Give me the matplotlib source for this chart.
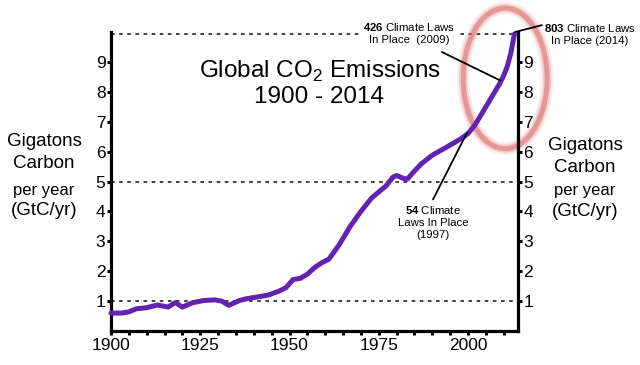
import matplotlib
matplotlib.use("Agg")
import matplotlib.pyplot as plt
from matplotlib.patches import Ellipse
from matplotlib.ticker import MultipleLocator

plt.rcParams['font.family'] = ['Liberation Sans', 'DejaVu Sans']
plt.rcParams['mathtext.fontset'] = 'custom'
plt.rcParams['mathtext.rm'] = 'Liberation Sans'
plt.rcParams['mathtext.bf'] = 'Liberation Sans:bold'

# emissions (GtC/yr)
years = [1900, 1903, 1905, 1907, 1910, 1913, 1916, 1918, 1920, 1923, 1926, 1929,
         1931, 1933, 1936, 1938, 1941, 1944, 1947, 1949, 1951, 1953, 1955, 1957,
         1959, 1961, 1964, 1967, 1970, 1973, 1975, 1977, 1979, 1980, 1982, 1983,
         1985, 1987, 1990, 1994, 1998, 2000, 2002, 2004, 2006, 2008, 2009, 2010,
         2011, 2012, 2013]
gtc = [0.60, 0.60, 0.64, 0.74, 0.78, 0.87, 0.80, 0.95, 0.80, 0.95, 1.02, 1.04,
       1.00, 0.86, 1.02, 1.08, 1.14, 1.20, 1.33, 1.45, 1.72, 1.76, 1.90, 2.12,
       2.28, 2.40, 2.90, 3.50, 4.00, 4.45, 4.65, 4.85, 5.15, 5.20, 5.10, 5.08,
       5.35, 5.60, 5.88, 6.15, 6.43, 6.60, 6.90, 7.30, 7.70, 8.10, 8.30, 8.55,
       8.85, 9.30, 9.93]

ref_lines = [1, 5]
yticks = [1, 2, 3, 4, 5, 6, 7, 8, 9]
xticks = [1900, 1925, 1950, 1975, 2000]

W, H = 640, 365
fig = plt.figure(figsize=(W / 100, H / 100), dpi=100)
ax = fig.add_axes([111 / W, 1 - 331 / H, (518 - 111) / W, (331 - 32) / H])

for y in ref_lines:
    ax.axhline(y, color='#333333', lw=1.3, dashes=(2, 2.5), zorder=1)
ax.plot([1900, 2012.8], [9.93, 9.93], color='#333333', lw=1.3, dashes=(2, 2.5),
        zorder=1, clip_on=False)

ax.plot(years, gtc, color='#6322b0', lw=3.6, solid_joinstyle='round',
        solid_capstyle='round', zorder=3, clip_on=False)

ax.set_xlim(1900, 2014)
ax.set_ylim(0, 10)
ax.set_xticks(xticks)
ax.xaxis.set_minor_locator(MultipleLocator(5))
ax.set_xticks([y for y in range(1905, 2011, 5) if y not in xticks], minor=True)
ax.set_yticks(yticks)

for s in ['left', 'right', 'bottom']:
    ax.spines[s].set_linewidth(2.3)
ax.spines['top'].set_visible(False)

tick_font = ['Liberation Sans Narrow', 'Liberation Sans']
ax.tick_params(axis='both', which='both', direction='out', length=3, width=2.2)
ax.tick_params(axis='y', left=True, right=True, labelleft=True, labelright=True, pad=1)
ax.tick_params(axis='x', pad=2)
for lab in ax.get_xticklabels() + ax.get_yticklabels() + ax.yaxis.get_ticklabels(which='major'):
    lab.set_family(tick_font)
    lab.set_fontsize(12.5)
for t in ax.yaxis.get_major_ticks():
    t.label2.set_family(tick_font)
    t.label2.set_fontsize(12.5)


def px(x, y):
    return x / W, 1 - y / H


# title
fig.text(*px(320, 71), 'Global CO$_2$ Emissions', ha='center', va='center', fontsize=17.5)
fig.text(*px(319, 97), '1900 - 2014', ha='center', va='center', fontsize=17.5)

# axis titles on both sides
for cx, ys in [(44, [141, 164, 190, 211]), (585, [146, 168, 190, 212])]:
    fig.text(*px(cx, ys[0]), 'Gigatons', ha='center', va='center', fontsize=13.5)
    fig.text(*px(cx, ys[1]), 'Carbon', ha='center', va='center', fontsize=13.5)
    fig.text(*px(cx, ys[2]), 'per year', ha='center', va='center', fontsize=12)
    fig.text(*px(cx, ys[3]), '(GtC/yr)', ha='center', va='center', fontsize=13.5)

# red ellipse
for lw, a in [(9, 0.12), (6, 0.25), (3.5, 0.55)]:
    ax.add_patch(Ellipse((2010.4, 8.45), 23.5, 4.7, fill=False, edgecolor='#dc6b6b',
                         lw=lw, alpha=a, clip_on=False, zorder=2))

# annotations
ann = dict(ha='center', va='center', fontsize=8.2, linespacing=1.25, zorder=5)
fig.text(*px(409, 33), '$\\bf{426}$ Climate Laws\nIn Place  (2009)',
         bbox=dict(facecolor='white', edgecolor='none', pad=1.5), **ann)
fig.text(*px(590, 34), '$\\bf{803}$ Climate Laws\nIn Place (2014)', **ann)
fig.text(*px(433, 222), '$\\bf{54}$ Climate\nLaws In Place\n(1997)', **ann)

lead = dict(arrowstyle='-', color='black', lw=1.3, shrinkA=0, shrinkB=0)
ax.annotate('', xy=(2009, 8.38), xytext=(1992.7, 9.33), arrowprops=lead, annotation_clip=False)
ax.annotate('', xy=(1999.8, 6.65), xytext=(1990.2, 4.4), arrowprops=lead, annotation_clip=False)
ax.annotate('', xy=(2013.2, 10.0), xytext=(2020.7, 10.23), arrowprops=lead, annotation_clip=False)

fig.savefig('out.png', dpi=100)
